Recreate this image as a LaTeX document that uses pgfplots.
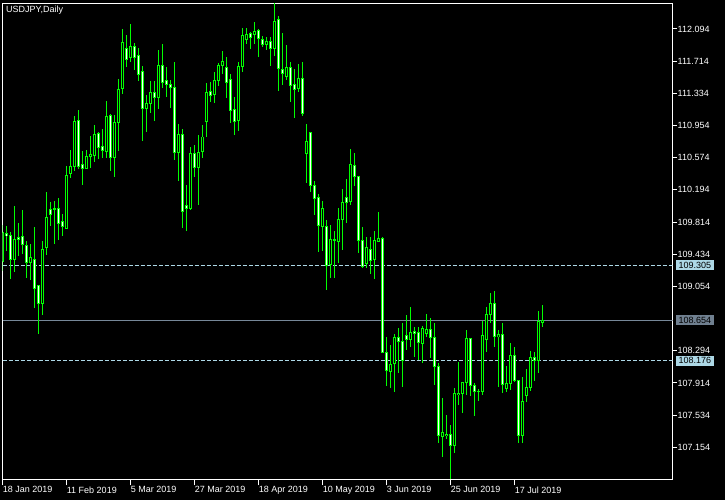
\documentclass[border=0pt]{standalone}
\usepackage{pgfplots}
\pgfplotsset{compat=1.18}
\usepackage{pgfplotstable}
\usepackage{fontspec}
\setmainfont{Liberation Sans}

\definecolor{mtgreen}{RGB}{0,255,0}
\definecolor{lvlblue}{RGB}{173,216,230}
\definecolor{bidgray}{RGB}{119,136,153}
\definecolor{bidbox}{RGB}{112,128,144}

% daily bars, i = bar number (0 = 18 Jan 2019)
\pgfplotstableread{
i o h l c
0 109.343 109.780 109.236 109.685
1 109.682 109.768 109.476 109.653
2 109.661 109.697 109.145 109.370
3 109.370 110.004 109.225 109.614
4 109.638 109.807 109.413 109.614
5 109.638 109.957 109.437 109.552
6 109.543 109.591 109.157 109.334
7 109.334 109.555 109.130 109.402
8 109.378 109.759 108.803 109.027
9 109.059 109.071 108.496 108.855
10 108.855 109.591 108.720 109.493
11 109.511 110.169 109.429 109.870
12 109.965 110.051 109.768 109.906
13 109.968 110.063 109.559 109.963
14 109.977 110.098 109.606 109.795
15 109.823 109.909 109.653 109.759
16 109.736 110.476 109.732 110.366
17 110.390 110.665 110.338 110.476
18 110.476 111.067 110.417 111.008
19 111.008 111.138 110.441 110.468
20 110.488 110.653 110.252 110.444
21 110.444 110.665 110.441 110.591
22 110.594 110.831 110.453 110.618
23 110.598 110.960 110.527 110.854
24 110.854 110.881 110.559 110.692
25 110.712 110.913 110.567 110.657
26 110.645 111.244 110.567 111.067
27 111.067 111.094 110.417 110.574
28 110.574 111.078 110.346 110.992
29 110.988 111.504 110.653 111.386
30 111.394 112.094 111.326 111.937
31 111.866 112.023 111.649 111.736
32 111.755 112.153 111.708 111.890
33 111.893 111.925 111.610 111.760
34 111.784 111.866 111.480 111.559
35 111.598 111.657 110.775 111.153
36 111.153 111.311 110.878 111.220
37 111.217 111.480 111.106 111.347
38 111.347 111.480 111.011 111.283
39 111.288 111.843 111.153 111.665
40 111.665 111.917 111.394 111.465
41 111.488 111.642 111.291 111.441
42 111.441 111.492 111.165 111.406
43 111.406 111.704 110.547 110.638
44 110.638 110.972 110.303 110.851
45 110.851 110.913 109.741 109.937
46 110.016 110.252 109.712 109.972
47 109.972 110.704 109.957 110.626
48 110.626 110.724 110.350 110.461
49 110.461 110.842 110.016 110.638
50 110.642 110.960 110.571 110.819
51 110.999 111.460 110.815 111.350
52 111.362 111.468 111.236 111.306
53 111.318 111.590 111.217 111.492
54 111.492 111.696 111.421 111.665
55 111.661 111.834 111.563 111.713
56 111.642 111.760 111.283 111.465
57 111.500 111.563 110.980 111.129
58 111.146 111.291 110.842 110.999
59 111.011 111.704 110.893 111.657
60 111.649 112.106 111.590 112.023
61 111.972 112.102 111.917 112.035
62 112.047 112.059 111.854 112.000
63 112.027 112.177 111.917 112.070
64 112.082 112.091 111.767 111.976
65 111.976 112.011 111.885 111.909
66 111.909 111.996 111.846 111.944
67 111.952 112.003 111.657 111.861
68 111.861 112.405 111.775 112.189
69 112.200 112.248 111.365 111.625
70 111.622 112.050 111.433 111.571
71 111.531 111.905 111.492 111.642
72 111.642 111.708 111.236 111.429
73 111.441 111.622 111.047 111.382
74 111.389 111.681 111.354 111.512
75 111.512 111.704 111.070 111.099
76 110.622 110.972 110.279 110.771
77 110.874 110.874 110.173 110.252
78 110.252 110.299 109.898 110.095
79 110.110 110.146 109.464 109.771
80 109.759 110.063 109.472 109.977
81 109.768 109.839 109.012 109.307
82 109.307 109.780 109.150 109.611
83 109.606 109.712 109.157 109.599
84 109.582 109.977 109.327 109.847
85 109.839 110.205 109.484 110.048
86 110.107 110.319 109.807 110.051
87 110.055 110.677 110.016 110.500
88 110.488 110.626 110.240 110.358
89 110.358 110.358 109.452 109.594
90 109.602 109.752 109.275 109.287
91 109.327 109.641 109.275 109.516
92 109.493 109.634 109.201 109.366
93 109.374 109.709 109.142 109.591
94 109.582 109.929 109.582 109.622
95 109.622 109.634 108.265 108.272
96 108.280 108.460 107.878 108.059
97 108.047 108.362 107.851 108.138
98 108.146 108.492 107.811 108.453
99 108.453 108.560 108.028 108.401
100 108.401 108.626 107.870 108.185
101 108.481 108.717 108.303 108.433
102 108.433 108.808 108.342 108.512
103 108.528 108.571 108.224 108.496
104 108.512 108.579 108.185 108.390
105 108.374 108.587 108.153 108.551
106 108.496 108.729 108.460 108.551
107 108.548 108.678 108.205 108.449
108 108.453 108.626 107.890 108.106
109 108.114 108.146 107.209 107.291
110 107.280 107.740 107.043 107.331
111 107.291 107.536 107.252 107.308
112 107.300 107.418 106.780 107.173
113 107.173 107.851 107.083 107.792
114 107.772 108.165 107.654 107.792
115 107.792 107.929 107.563 107.922
116 107.922 108.540 107.772 108.442
117 108.442 108.442 107.760 107.887
118 107.887 107.910 107.527 107.819
119 107.819 107.846 107.705 107.813
120 107.819 108.649 107.768 108.469
121 108.430 108.808 108.276 108.725
122 108.725 108.980 108.619 108.855
123 108.855 109.000 108.342 108.460
124 108.460 108.540 107.863 108.489
125 108.489 108.626 107.799 107.898
126 107.846 108.114 107.811 107.910
127 107.910 108.390 107.831 108.241
128 108.241 108.335 107.929 107.941
129 107.949 107.949 107.209 107.291
130 107.291 107.985 107.209 107.698
131 107.764 108.079 107.693 107.863
132 107.863 108.292 107.819 108.221
133 108.221 108.283 107.941 108.182
134 108.182 108.764 108.035 108.634
135 108.626 108.835 108.571 108.654
}\usdjpy

\begin{document}
\begin{tikzpicture}[x=1pt,y=1pt]
\fill[black] (0,0) rectangle (725,500);
\useasboundingbox (0,0) rectangle (725,500);
\node[anchor=north west, inner sep=0pt, text=white, font=\fontsize{9}{10}\selectfont] at (6,494) {USDJPY,Daily};
\begin{axis}[
    at={(2.5pt,20.5pt)}, anchor=south west,
    scale only axis, width=670pt, height=476pt,
    xmin=-0.05, xmax=167.45,
    ymin=106.774, ymax=112.395,
    clip mode=individual,
    axis line style={white, line width=1pt},
    tick style={white, line width=1pt},
    tick align=outside,
    major tick length=4pt,
    xtick pos=bottom, ytick pos=right, yticklabel pos=right,
    xtick style={/pgfplots/major tick length=6pt},
    ytick={107.154,107.534,107.914,108.294,109.054,109.434,109.814,110.194,110.574,110.954,111.334,111.714,112.094},
    yticklabels={107.154,107.534,107.914,108.294,109.054,109.434,109.814,110.194,110.574,110.954,111.334,111.714,112.094},
    xtick={0,16,32,48,64,80,96,112,128},
    xticklabels={18 Jan 2019,11 Feb 2019,5 Mar 2019,27 Mar 2019,18 Apr 2019,10 May 2019,3 Jun 2019,25 Jun 2019,17 Jul 2019},
    yticklabel style={text=white, anchor=west, inner sep=0pt, xshift=1pt, font=\fontsize{9}{10}\selectfont},
    xticklabel style={text=white, anchor=north west, inner sep=0pt, yshift=-3pt, font=\fontsize{9}{10}\selectfont},
]
% order levels and bid line
\addplot[lvlblue, line width=1pt, dash pattern=on 4pt off 2pt] coordinates {(-0.05,109.305) (167.45,109.305)};
\addplot[lvlblue, line width=1pt, dash pattern=on 4pt off 2pt] coordinates {(-0.05,108.176) (167.45,108.176)};
\addplot[bidgray, line width=1pt] coordinates {(-0.05,108.654) (167.45,108.654)};

% wicks
\addplot[draw=none, mark=none,
    error bars/.cd, y dir=both, y explicit, error mark=none,
    error bar style={draw=mtgreen, line width=1pt}]
    table[x=i, y expr={(\thisrow{h}+\thisrow{l})/2}, y error expr={(\thisrow{h}-\thisrow{l})/2}] {\usdjpy};
% bodies, green outline
\addplot[draw=none, mark=none,
    error bars/.cd, y dir=both, y explicit, error mark=none,
    error bar style={draw=mtgreen, line width=3pt}]
    table[x=i, y expr={(\thisrow{o}+\thisrow{c})/2}, y error expr={abs(\thisrow{o}-\thisrow{c})/2+0.0059}] {\usdjpy};
% bear fill
\addplot[draw=none, mark=none,
    error bars/.cd, y dir=both, y explicit, error mark=none,
    error bar style={draw=white, line width=1pt}]
    table[x=i, y expr={(\thisrow{o}+\thisrow{c})/2}, y error expr={(\thisrow{o}>\thisrow{c})*max(abs(\thisrow{o}-\thisrow{c})/2-0.0059,0)}] {\usdjpy};
% bull fill
\addplot[draw=none, mark=none,
    error bars/.cd, y dir=both, y explicit, error mark=none,
    error bar style={draw=black, line width=1pt}]
    table[x=i, y expr={(\thisrow{o}+\thisrow{c})/2}, y error expr={(\thisrow{c}>\thisrow{o})*max(abs(\thisrow{o}-\thisrow{c})/2-0.0059,0)}] {\usdjpy};

\node[anchor=west, xshift=3.2pt, fill=lvlblue, text=black, inner sep=0pt, minimum width=38pt, minimum height=10.4pt, font=\fontsize{9}{10}\selectfont] at (axis cs:167.45,109.305) {109.305};
\node[anchor=west, xshift=3.2pt, fill=bidbox, text=black, inner sep=0pt, minimum width=38pt, minimum height=10.4pt, font=\fontsize{9}{10}\selectfont] at (axis cs:167.45,108.654) {108.654};
\node[anchor=west, xshift=3.2pt, fill=lvlblue, text=black, inner sep=0pt, minimum width=38pt, minimum height=10.4pt, font=\fontsize{9}{10}\selectfont] at (axis cs:167.45,108.176) {108.176};
\end{axis}
\end{tikzpicture}
\end{document}
